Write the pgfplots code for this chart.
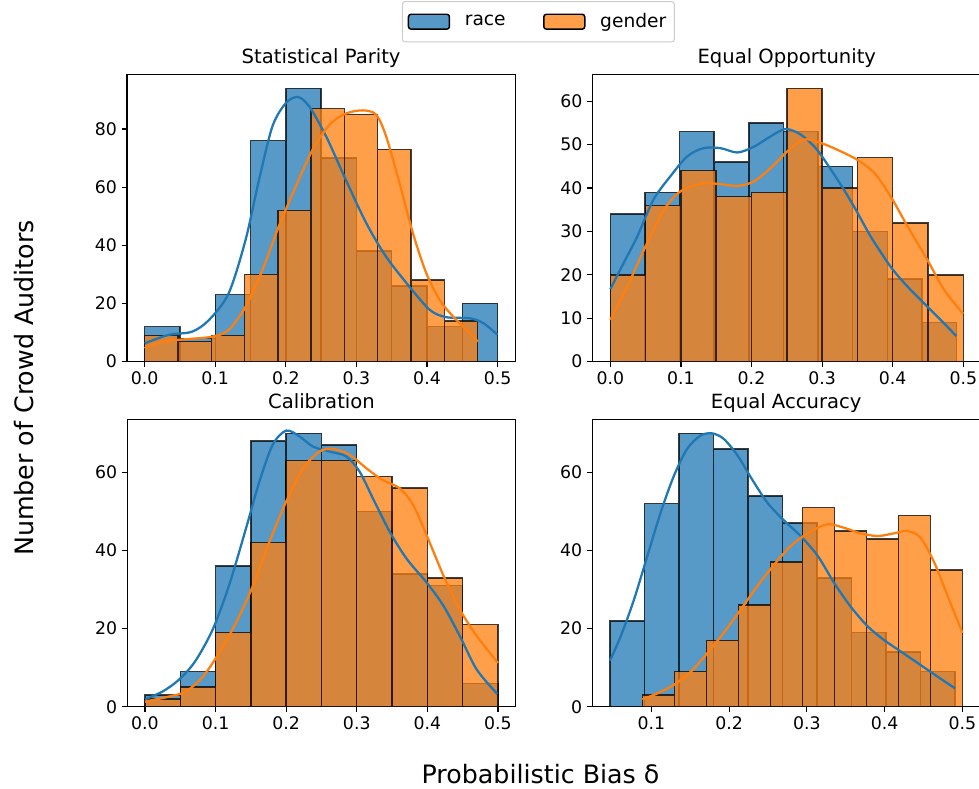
\documentclass[border=0pt]{standalone}
\usepackage{fontspec}
\setmainfont{DejaVu Sans}
\usepackage{pgfplots}
\pgfplotsset{compat=1.18}
\definecolor{tabblue}{HTML}{1F77B4}
\definecolor{taborange}{HTML}{FF7F0E}
\definecolor{leggray}{HTML}{CCCCCC}
\newcommand{\tickfont}{\fontsize{13}{15}\selectfont}
\newcommand{\legfont}{\fontsize{14}{16}\selectfont}
\newcommand{\titlefont}{\fontsize{14.7}{17}\selectfont}
\newcommand{\labfont}{\fontsize{19}{22}\selectfont}
\pgfplotsset{
  every axis title shift=0pt,
  panel/.style={
    width=291.2pt, height=215.3pt, scale only axis, anchor=south west,
    xmin=-0.025, xmax=0.525, ymin=0,
    axis line style={line width=0.9pt},
    tick style={line width=0.9pt, black},
    major tick length=4.1pt, tick align=outside,
    xtick pos=bottom, ytick pos=left,
    xtick={0,0.1,0.2,0.3,0.4,0.5},
    x tick label style={/pgf/number format/.cd, fixed, fixed zerofill, precision=1, /tikz/.cd},
    /pgf/number format/assume math mode=true,
    tick label style={font=\tickfont},
    title style={at={(0.5,1)}, anchor=base, yshift=8pt, font=\titlefont},
    clip=false,
  },
  hb/.style={ybar, bar shift=0pt, fill=tabblue, draw=black, opacity=0.75, line width=1.1pt, forget plot},
  ho/.style={ybar, bar shift=0pt, fill=taborange, draw=black, opacity=0.75, line width=1.1pt, forget plot},
  kb/.style={tabblue, line width=1.7pt, smooth, tension=0.5, no marks, forget plot},
  ko/.style={taborange, line width=1.7pt, smooth, tension=0.5, no marks, forget plot},
}
\begin{document}
\begin{tikzpicture}
\useasboundingbox (0,0) rectangle (734.25pt,591.75pt);
% Statistical Parity
\begin{axis}[panel, at={(95.25pt,320.5pt)}, ymax=98.7, ytick={0,20,40,60,80},
  title={Statistical Parity},
  legend columns=2,
  legend image code/.code={\draw[#1] (0pt,-5.6pt) rectangle (30.75pt,5.6pt);},
  legend style={at={(0.708,1.1124)}, anchor=south west, draw=leggray, line width=0.75pt,
    rounded corners=2pt, fill=white, font=\legfont, inner xsep=4pt, inner ysep=7pt,
    legend cell align=left,
    /tikz/every odd column/.append style={column sep=9pt},
    /tikz/every even column/.append style={column sep=26pt}},
]
\addplot[hb, bar width=0.05] coordinates {(0.025,12)(0.075,8)(0.125,23)(0.175,76)(0.225,94)(0.275,70)(0.325,38)(0.375,26)(0.425,12)(0.475,20)};
\addplot[ho, bar width=0.04716] coordinates {(0.0236,9)(0.0708,7)(0.1179,9)(0.1651,30)(0.2122,52)(0.2594,87)(0.3066,85)(0.3537,73)(0.4009,28)(0.4480,14)};
\addplot[kb] coordinates {(0,6.3)(0.034,9.2)(0.067,10.3)(0.091,14.3)(0.119,23.5)(0.143,41.9)(0.162,62.5)(0.181,80.9)(0.2,88.9)(0.217,91)(0.233,87.8)(0.257,77.5)(0.285,62.5)(0.314,47.6)(0.342,36.1)(0.375,25.8)(0.404,17.8)(0.427,15.3)(0.461,14.9)(0.48,13.2)(0.5,9.2)};
\addplot[ko] coordinates {(0,4.6)(0.025,6.9)(0.058,7.7)(0.096,8.6)(0.119,10.9)(0.143,18.9)(0.167,31.6)(0.19,46.5)(0.214,60.2)(0.238,72.9)(0.262,81.5)(0.285,85.3)(0.309,86.4)(0.328,84.9)(0.342,77.5)(0.361,61.4)(0.38,44.2)(0.399,30.4)(0.418,21.2)(0.437,15.5)(0.456,10.9)(0.472,6.9)};
\addlegendimage{fill=tabblue, fill opacity=0.75, draw=black, line width=1.1pt}
\addlegendentry{race}
\addlegendimage{fill=taborange, fill opacity=0.75, draw=black, line width=1.1pt}
\addlegendentry{gender}
\end{axis}
% Equal Opportunity
\begin{axis}[panel, at={(444.5pt,320.5pt)}, ymax=66.15, ytick={0,10,20,30,40,50,60},
  title={Equal Opportunity}]
\addplot[hb, bar width=0.04905] coordinates {(0.0245,34)(0.0736,39)(0.1226,53)(0.1717,46)(0.2207,55)(0.2698,53)(0.3188,45)(0.3679,30)(0.4169,19)(0.4660,9)};
\addplot[ho, bar width=0.05] coordinates {(0.025,20)(0.075,36)(0.125,44)(0.175,38)(0.225,39)(0.275,63)(0.325,40)(0.375,47)(0.425,32)(0.475,20)};
\addplot[kb] coordinates {(0,16.7)(0.014,21.2)(0.038,28.8)(0.061,37.3)(0.085,42.7)(0.109,47.3)(0.132,49.2)(0.156,49.2)(0.18,48.2)(0.203,49.5)(0.227,51.9)(0.248,53.6)(0.27,52.3)(0.293,48.8)(0.322,41.9)(0.345,35.8)(0.369,28.8)(0.397,21.9)(0.421,17.3)(0.449,12.7)(0.473,8.8)(0.49,5.9)};
\addplot[ko] coordinates {(0,9.6)(0.024,17.3)(0.052,27.3)(0.076,35)(0.099,39.2)(0.128,41)(0.151,41)(0.18,40.5)(0.203,41.5)(0.227,44.6)(0.251,48.5)(0.274,51.2)(0.298,50.4)(0.322,48.8)(0.35,46.5)(0.374,43.5)(0.397,38.1)(0.421,31.2)(0.449,23.5)(0.473,16.5)(0.5,11)};
\end{axis}
% Calibration
\begin{axis}[panel, at={(95.5pt,61.7pt)}, ymax=73.5, ytick={0,20,40,60},
  title={Calibration}]
\addplot[hb, bar width=0.05] coordinates {(0.025,3)(0.075,9)(0.125,36)(0.175,68)(0.225,70)(0.275,67)(0.325,50)(0.375,34)(0.425,31)(0.475,6)};
\addplot[ho, bar width=0.05] coordinates {(0.025,2)(0.075,5)(0.125,19)(0.175,42)(0.225,63)(0.275,63)(0.325,59)(0.375,56)(0.425,33)(0.475,21)};
\addplot[kb] coordinates {(0,1.9)(0.025,3.9)(0.048,6.9)(0.071,11.6)(0.096,19.8)(0.119,31)(0.143,45.6)(0.162,57.6)(0.181,67.1)(0.2,70.7)(0.219,69.2)(0.238,66.6)(0.262,65.3)(0.285,64.1)(0.304,60.2)(0.323,53.3)(0.347,44.7)(0.371,37.8)(0.399,31.8)(0.423,25.8)(0.446,18.1)(0.47,9.5)(0.499,3.3)};
\addplot[ko] coordinates {(0,1.3)(0.034,2.6)(0.058,3.9)(0.082,7.7)(0.105,13.8)(0.129,21.5)(0.153,31)(0.176,42.1)(0.2,52.5)(0.224,61)(0.247,65.3)(0.266,66)(0.29,64.5)(0.314,61)(0.337,58)(0.361,55.9)(0.38,51.6)(0.399,43.9)(0.423,33.5)(0.446,24.9)(0.47,18.1)(0.5,11.2)};
\end{axis}
% Equal Accuracy
\begin{axis}[panel, at={(444.2pt,61.7pt)}, xmin=0.0241, xmax=0.5227, width=290.9pt,
  ymax=73.5, ytick={0,20,40,60}, xtick={0.1,0.2,0.3,0.4,0.5},
  title={Equal Accuracy}]
\addplot[hb, bar width=0.04437] coordinates {(0.0690,22)(0.1134,52)(0.1577,70)(0.2021,66)(0.2465,54)(0.2908,47)(0.3352,33)(0.3796,19)(0.4240,14)(0.4683,9)};
\addplot[ho, bar width=0.04116] coordinates {(0.1090,3)(0.1502,9)(0.1913,17)(0.2325,26)(0.2736,37)(0.3148,51)(0.3560,45)(0.3971,43)(0.4383,49)(0.4794,35)};
\addplot[kb] coordinates {(0.0468,11.8)(0.0606,18)(0.0777,27.4)(0.0949,38.6)(0.112,49.7)(0.129,59.1)(0.146,66)(0.163,69.4)(0.178,70)(0.193,68.6)(0.211,64.3)(0.228,58.7)(0.249,52.3)(0.271,47.6)(0.292,43.7)(0.314,38.6)(0.335,31.7)(0.356,25.7)(0.378,20.6)(0.399,17.1)(0.421,14.1)(0.446,10.7)(0.468,7.7)(0.4905,4.7)};
\addplot[ko] coordinates {(0.0884,1.9)(0.1077,3.4)(0.129,5.6)(0.151,9)(0.172,13.7)(0.193,18.9)(0.215,24.9)(0.236,30.8)(0.258,36.4)(0.279,41.1)(0.301,44.4)(0.326,46.7)(0.348,45.8)(0.369,44.4)(0.391,43.7)(0.412,44.4)(0.429,45)(0.446,43.3)(0.464,36.8)(0.481,28.3)(0.5,18.9)};
\end{axis}
\node[rotate=90, anchor=base, font=\labfont, inner sep=0pt] at (25pt,300.75pt) {Number of Crowd Auditors};
\node[anchor=base, font=\labfont, inner sep=0pt] at (405.4pt,4.3pt) {Probabilistic Bias δ};
\end{tikzpicture}
\end{document}
